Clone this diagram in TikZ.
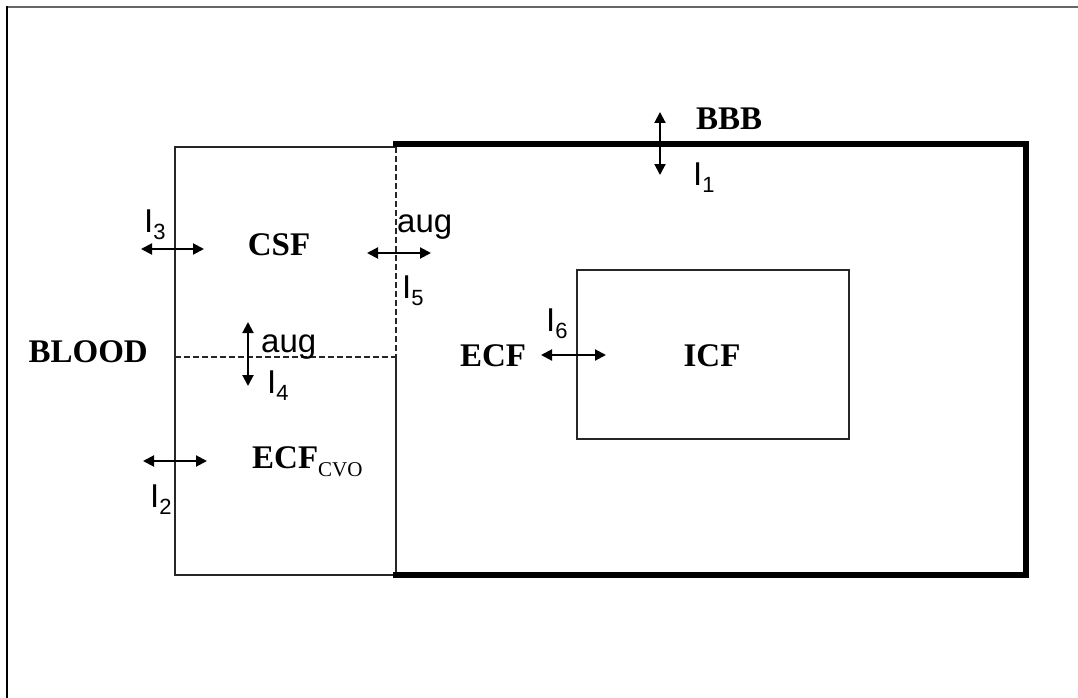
\documentclass[tikz,border=0pt]{standalone}
\usepackage{fontspec}
\setmainfont{Liberation Serif}
\newfontfamily\arialf{Liberation Sans}
\usetikzlibrary{arrows.meta}
\tikzset{
  thin box/.style={draw=black!85, line width=1.3pt},
  thick box/.style={draw=black, line width=6pt},
  dash line/.style={draw=black!85, line width=1.3pt, dash pattern=on 5.5pt off 3.5pt},
  dbl/.style={line width=2pt, {Triangle[length=11pt,width=11pt]}-{Triangle[length=11pt,width=11pt]}},
  boldlab/.style={inner sep=0pt, font=\fontsize{33}{38}\selectfont\bfseries},
  sanslab/.style={inner sep=0pt, font=\arialf\fontsize{33}{38}\selectfont},
}
\newcommand{\ilab}[1]{I\raisebox{-7pt}{\fontsize{22}{23}\selectfont #1}}
\begin{document}
\begin{tikzpicture}[x=1pt,y=-1pt]
\useasboundingbox (0,0) rectangle (1078,698);
% frame (only top and left visible)
\draw[black!60, line width=2.5pt] (6,7) -- (1078,7);
\draw[black, line width=2pt] (6.5,6) -- (6.5,698);
% left box
\draw[thin box] (396,147) -- (175,147) -- (175,575) -- (396,575) -- (396,357);
\draw[dash line] (396,147) -- (396,357);
\draw[dash line] (175,357) -- (396,357);
% BBB thick box
\draw[thick box, line cap=rect] (396,144) -- (1026,144) -- (1026,575) -- (396,575);
% ICF box
\draw[thin box] (577,270) rectangle (849,439);
% text
\node[boldlab, anchor=base east] (blood) at (148,362) {BLOOD};
\node[boldlab, anchor=base] (csf) at (279,255) {CSF};
\node[boldlab, anchor=base] (ecf) at (493,366) {ECF};
\node[boldlab, anchor=base] (icf) at (712,366) {ICF};
\node[boldlab, anchor=base west] (bbb) at (696,129) {BBB};
\node[boldlab, anchor=base west] (ecfcvo) at (252,468) {ECF\raisebox{-8pt}{\fontsize{21}{22}\selectfont\mdseries CVO}};
\node[sanslab, anchor=base west] (aug1) at (397,232) {aug};
\node[sanslab, anchor=base west] (aug2) at (261,352) {aug};
\node[sanslab, anchor=base west] (i3) at (144,232) {\ilab{3}};
\node[sanslab, anchor=base west] (i5) at (402,298) {\ilab{5}};
\node[sanslab, anchor=base west] (i4) at (267,393) {\ilab{4}};
\node[sanslab, anchor=base west] (i2) at (150,507) {\ilab{2}};
\node[sanslab, anchor=base west] (i1) at (693,185) {\ilab{1}};
\node[sanslab, anchor=base west] (i6) at (546,331) {\ilab{6}};
% arrows
\coordinate (a3l) at (141,249); \coordinate (a3r) at (204,249);
\coordinate (a5l) at (367,253); \coordinate (a5r) at (431,253);
\coordinate (a4t) at (248,322); \coordinate (a4b) at (248,386);
\coordinate (a2l) at (143,461); \coordinate (a2r) at (207,461);
\coordinate (a1t) at (660,112); \coordinate (a1b) at (660,175);
\coordinate (a6l) at (541,355); \coordinate (a6r) at (606,355);
\draw[dbl] (a3l) -- (a3r);
\draw[dbl] (a5l) -- (a5r);
\draw[dbl] (a4t) -- (a4b);
\draw[dbl] (a2l) -- (a2r);
\draw[dbl] (a1t) -- (a1b);
\draw[dbl] (a6l) -- (a6r);
\end{tikzpicture}
\end{document}
